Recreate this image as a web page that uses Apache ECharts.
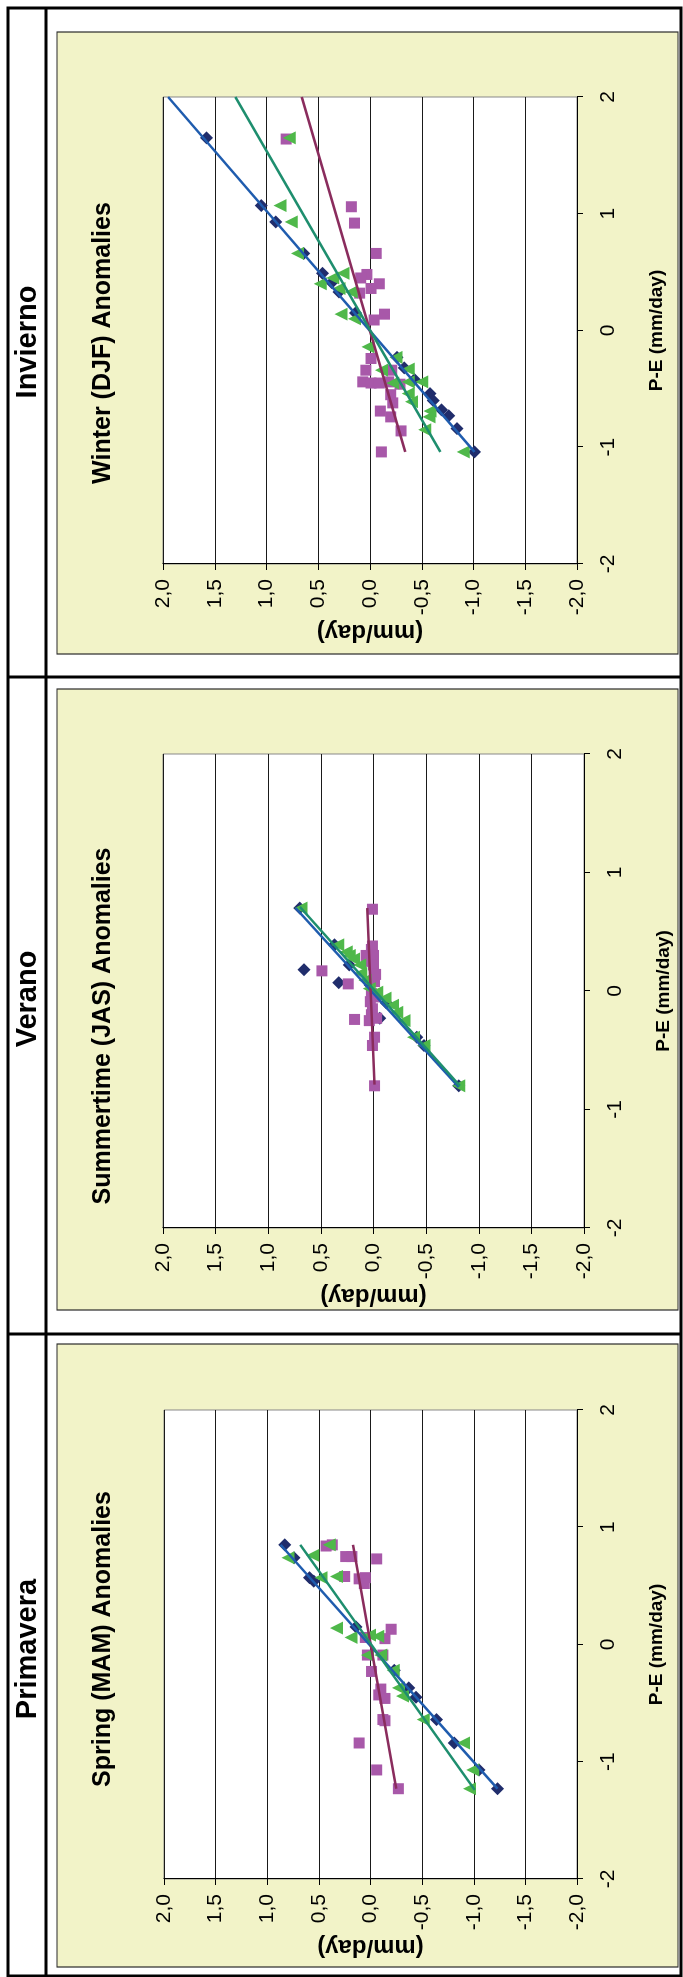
<!DOCTYPE html>
<html>
<head>
<meta charset="utf-8">
<title>P-E vs anomalies</title>
<script src="https://cdn.jsdelivr.net/npm/echarts@6/dist/echarts.min.js"></script>
<style>
  html, body { margin: 0; padding: 0; background: #fff; width: 683px; height: 1977px; overflow: hidden; }
  /* the table is laid out in landscape and turned onto the portrait sheet */
  #sheet { position: absolute; left: 0; top: 0; width: 1977px; height: 683px;
           transform-origin: 0 0; transform: translate(0, 1977px) rotate(-90deg); }
</style>
</head>
<body>
<div id="sheet"></div>
<script>
// ---- data: [P-E, anomaly] pairs in mm/day ----
// Spring (MAM)
const mamDiamonds = [[0.85,0.83],[0.74,0.74],[0.57,0.59],[0.54,0.55],[0.15,0.14],[-0.22,-0.23],[-0.37,-0.37],[-0.45,-0.44],[-0.64,-0.64],[-0.84,-0.81],[-1.07,-1.05],[-1.23,-1.23]];
const mamSquares = [[0.84,0.43],[0.85,0.37],[0.75,0.24],[0.75,0.18],[0.73,-0.06],[0.58,0.25],[0.56,0.11],[0.57,0.05],[0.52,0.06],[0.13,-0.20],[0.05,-0.14],[0.06,0.05],[-0.09,-0.12],[-0.09,0.03],[-0.23,-0.01],[-0.38,-0.10],[-0.43,-0.08],[-0.46,-0.14],[-0.64,-0.12],[-0.65,-0.14],[-0.84,0.11],[-1.07,-0.06],[-1.23,-0.27]];
const mamTriangles = [[0.85,0.40],[0.76,0.56],[0.74,0.80],[0.58,0.33],[0.57,0.48],[0.14,0.33],[0.06,0.19],[0.08,0.01],[0.07,-0.07],[-0.09,0.03],[-0.09,-0.10],[-0.22,-0.22],[-0.37,-0.27],[-0.44,-0.31],[-0.64,-0.51],[-0.84,-0.90],[-1.07,-0.99],[-1.23,-0.96]];
const mamTrendBlue = [[-1.23,-1.23],[0.85,0.87]];
const mamTrendTeal = [[-1.24,-1.01],[0.85,0.68]];
const mamTrendMaroon = [[-1.23,-0.25],[0.85,0.17]];

// Summertime (JAS)
const jasDiamonds = [[0.70,0.70],[0.18,0.66],[0.07,0.33],[0.39,0.37],[0.22,0.23],[0.05,0.03],[-0.10,-0.12],[-0.23,-0.06],[-0.39,-0.41],[-0.46,-0.48],[-0.80,-0.81]];
const jasSquares = [[0.69,0.01],[0.38,0.01],[0.35,0.02],[0.30,0.00],[0.30,0.07],[0.25,0.03],[0.22,0.00],[0.17,0.49],[0.14,-0.02],[0.06,0.24],[0.08,-0.01],[-0.02,0.02],[-0.05,-0.02],[-0.09,0.03],[-0.15,0.01],[-0.20,0.02],[-0.24,0.18],[-0.25,0.04],[-0.23,-0.03],[-0.39,-0.01],[-0.46,0.01],[-0.80,-0.01]];
const jasTriangles = [[0.70,0.69],[0.39,0.34],[0.33,0.26],[0.30,0.23],[0.27,0.19],[0.22,0.13],[0.15,0.12],[0.09,0.08],[0.02,0.04],[-0.01,-0.03],[-0.06,-0.11],[-0.12,-0.18],[-0.18,-0.22],[-0.25,-0.29],[-0.39,-0.38],[-0.46,-0.48],[-0.80,-0.81]];
const jasTrendBlue = [[-0.81,-0.81],[0.70,0.74]];
const jasTrendTeal = [[-0.80,-0.82],[0.71,0.70]];
const jasTrendMaroon = [[-0.79,-0.01],[0.70,0.06]];

// Winter (DJF)
const djfDiamonds = [[1.65,1.58],[1.07,1.05],[0.93,0.91],[0.66,0.64],[0.49,0.46],[0.41,0.37],[0.33,0.30],[0.15,0.14],[-0.23,-0.26],[-0.32,-0.33],[-0.42,-0.43],[-0.54,-0.58],[-0.60,-0.61],[-0.68,-0.69],[-0.73,-0.76],[-0.84,-0.84],[-1.04,-1.01]];
const djfSquares = [[1.64,0.81],[1.06,0.18],[0.92,0.15],[0.66,-0.06],[0.48,0.03],[0.45,0.09],[0.40,-0.09],[0.36,-0.01],[0.32,0.10],[0.14,-0.14],[0.09,-0.04],[-0.24,-0.01],[-0.34,0.04],[-0.44,0.07],[-0.45,-0.01],[-0.45,-0.09],[-0.34,-0.21],[-0.44,-0.18],[-0.46,-0.29],[-0.55,-0.20],[-0.62,-0.22],[-0.69,-0.10],[-0.74,-0.20],[-0.86,-0.30],[-1.04,-0.11]];
const djfTriangles = [[1.65,0.78],[1.07,0.87],[0.93,0.76],[0.66,0.70],[0.49,0.26],[0.45,0.36],[0.40,0.48],[0.36,0.30],[0.33,0.18],[0.14,0.28],[0.10,0.15],[-0.14,0.02],[-0.23,-0.25],[-0.34,-0.11],[-0.33,-0.37],[-0.45,-0.22],[-0.44,-0.37],[-0.44,-0.50],[-0.54,-0.37],[-0.61,-0.40],[-0.69,-0.58],[-0.74,-0.57],[-0.85,-0.53],[-1.04,-0.90]];
const djfTrendBlue = [[-1.04,-1.01],[2.0,1.95]];
const djfTrendTeal = [[-1.04,-0.68],[2.0,1.30]];
const djfTrendMaroon = [[-1.04,-0.34],[2.0,0.66]];

// ---- text ----
const seasonHeaders = ['Primavera', 'Verano', 'Invierno'];
const chartTitles = ['Spring (MAM) Anomalies', 'Summertime (JAS) Anomalies', 'Winter (DJF) Anomalies'];
const xAxisTitle = 'P-E (mm/day)';
const yAxisTitle = '(mm/day)';

// ---- layout (landscape pixels) ----
const FONT = '"Liberation Sans", Arial, Helvetica, sans-serif';
const panels = [
  { grid: { left: 98,  top: 164, width: 469, height: 413 }, box: [10, 57, 623, 621],   titleX: 338,  headerX: 328,
    sets: [mamDiamonds, mamSquares, mamTriangles], trends: [mamTrendBlue, mamTrendMaroon, mamTrendTeal] },
  { grid: { left: 749, top: 163, width: 474, height: 421 }, box: [667, 57, 621, 621],  titleX: 951,  headerX: 978,
    sets: [jasDiamonds, jasSquares, jasTriangles], trends: [jasTrendBlue, jasTrendMaroon, jasTrendTeal] },
  { grid: { left: 1413, top: 163, width: 467, height: 414 }, box: [1323, 57, 622, 621], titleX: 1634, headerX: 1635,
    sets: [djfDiamonds, djfSquares, djfTriangles], trends: [djfTrendBlue, djfTrendMaroon, djfTrendTeal] }
];

const markerStyles = [
  { symbol: 'diamond',  size: 13, color: '#202D6C' },
  { symbol: 'rect',     size: 11, color: '#A858A9' },
  { symbol: 'triangle', size: 13, color: '#4FB84A' }
];
const trendColors = ['#1F5CAE', '#8A2C5D', '#1E8E6E'];

const grids = [], xAxes = [], yAxes = [], series = [], graphics = [];

// table frame
graphics.push({ type: 'rect', z: 50, shape: { x: 1, y: 8, width: 1968, height: 673 },
  style: { fill: 'none', stroke: '#000', lineWidth: 3 } });
graphics.push({ type: 'line', z: 50, shape: { x1: 1, y1: 46, x2: 1969, y2: 46 },
  style: { stroke: '#000', lineWidth: 3 } });
[643, 1300].forEach(x => graphics.push({ type: 'line', z: 50, shape: { x1: x, y1: 8, x2: x, y2: 681 },
  style: { stroke: '#000', lineWidth: 3 } }));

panels.forEach((p, i) => {
  // chart area background
  graphics.push({ type: 'rect', z: -5, shape: { x: p.box[0], y: p.box[1], width: p.box[2], height: p.box[3] },
    style: { fill: '#F2F3C8', stroke: '#2a2a2a', lineWidth: 1.2 } });
  // column header
  graphics.push({ type: 'text', z: 60, x: p.headerX, y: 28,
    style: { text: seasonHeaders[i], font: 'bold 29px ' + FONT, fill: '#000',
             align: 'center', verticalAlign: 'middle', textAlign: 'center', textVerticalAlign: 'middle' } });
  // chart title
  graphics.push({ type: 'text', z: 60, x: p.titleX, y: 103,
    style: { text: chartTitles[i], font: 'bold 25px ' + FONT, fill: '#000',
             align: 'center', verticalAlign: 'middle', textAlign: 'center', textVerticalAlign: 'middle' } });

  grids.push(Object.assign({ show: true, backgroundColor: '#fff', borderColor: '#888', borderWidth: 1,
    containLabel: false }, p.grid));

  xAxes.push({
    gridIndex: i, type: 'value', min: -2, max: 2, interval: 1, position: 'bottom',
    axisLine: { show: true, onZero: false, lineStyle: { color: '#000', width: 1 } },
    axisTick: { show: true, inside: false, length: 6, lineStyle: { color: '#000' } },
    axisLabel: { fontSize: 21, color: '#000', margin: 21, fontFamily: FONT, showMinLabel: true, showMaxLabel: true },
    splitLine: { show: false },
    name: xAxisTitle, nameLocation: 'middle', nameGap: 70,
    nameTextStyle: { fontWeight: 'bold', fontSize: 19, color: '#000', fontFamily: FONT }
  });
  yAxes.push({
    gridIndex: i, type: 'value', min: -2, max: 2, interval: 0.5,
    axisLine: { show: true, onZero: false, lineStyle: { color: '#000', width: 1 } },
    axisTick: { show: true, inside: false, length: 6, lineStyle: { color: '#000' } },
    axisLabel: { fontSize: 21, color: '#000', margin: 15, fontFamily: FONT, showMinLabel: true, showMaxLabel: true,
                 formatter: v => v.toFixed(1).replace('.', ',') },
    splitLine: { show: true, lineStyle: { color: '#1a1a1a', width: 1 } },
    name: yAxisTitle, nameLocation: 'middle', nameGap: 56, nameRotate: 90,
    nameTextStyle: { fontWeight: 'bold', fontSize: 24, color: '#000', fontFamily: FONT }
  });

  p.sets.forEach((d, k) => {
    const m = markerStyles[k];
    series.push({ type: 'scatter', xAxisIndex: i, yAxisIndex: i, data: d, symbol: m.symbol,
      symbolSize: m.size, itemStyle: { color: m.color, opacity: 1 }, z: 3 + k, silent: true });
  });
  p.trends.forEach((d, k) => {
    series.push({ type: 'line', xAxisIndex: i, yAxisIndex: i, data: d, showSymbol: false, symbol: 'none',
      lineStyle: { color: trendColors[k], width: 2.5 }, z: 10, silent: true });
  });
});

const chart = echarts.init(document.getElementById('sheet'), null, { renderer: 'canvas', width: 1977, height: 683 });
chart.setOption({
  animation: false,
  backgroundColor: '#fff',
  grid: grids, xAxis: xAxes, yAxis: yAxes, series: series,
  graphic: { elements: graphics }
});
</script>
</body>
</html>
